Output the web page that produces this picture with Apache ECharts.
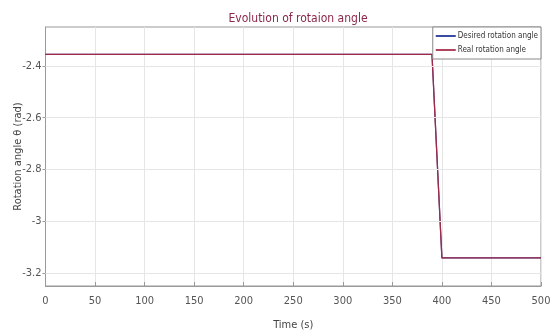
<!DOCTYPE html>
<html>
<head>
<meta charset="utf-8">
<script src="https://cdn.jsdelivr.net/npm/echarts@6/dist/echarts.min.js"></script>
<style>html,body{margin:0;padding:0;background:#fff}#c{width:553px;height:336px}</style>
</head>
<body>
<div id="c"></div>
<script>
// Data
const time = [0, 390, 400, 500];
const desiredAngle = [-2.356, -2.356, -3.1416, -3.1416];
const realAngle = [-2.356, -2.356, -3.1416, -3.1416];
const yTicks = [-3.2, -3.0, -2.8, -2.6, -2.4];
const xTicks = [0, 50, 100, 150, 200, 250, 300, 350, 400, 450, 500];
const seriesNames = ['Desired rotation angle', 'Real rotation angle'];

const FONT = "'Liberation Sans Narrow', 'DejaVu Sans Condensed', 'Liberation Sans', sans-serif";
const chart = echarts.init(document.getElementById('c'), null, {renderer: 'canvas'});
const pairs = (ys) => time.map((t, i) => [t, ys[i]]);

chart.setOption({
  animation: false,
  backgroundColor: '#fff',
  title: {
    text: 'Evolution of rotaion angle',
    left: 293, top: 8, textAlign: 'center',
    textStyle: {fontFamily: FONT, fontSize: 12, fontWeight: 'normal', color: '#8a2846'}
  },
  legend: {
    right: 12, top: 27, orient: 'vertical', z: 20,
    backgroundColor: '#fff', borderColor: '#888', borderWidth: 1, borderRadius: 0,
    padding: [5, 3, 5, 3], itemGap: 6, itemWidth: 20, itemHeight: 2,
    icon: 'rect',
    textStyle: {fontFamily: FONT, fontSize: 8, color: '#333', padding: [0, 0, 0, -3]},
    data: seriesNames
  },
  grid: {left: 45.5, right: 12, top: 27, bottom: 50, outerBoundsMode: 'none', containLabel: false,
    show: true, borderColor: '#999', borderWidth: 1, backgroundColor: 'transparent'},
  xAxis: {
    type: 'value', min: xTicks[0], max: xTicks[xTicks.length - 1], interval: 50,
    name: 'Time (s)', nameLocation: 'middle', nameGap: 34, nameMoveOverlap: false,
    nameTextStyle: {fontFamily: FONT, fontSize: 11, color: '#444'},
    axisLine: {show: true, lineStyle: {color: '#999'}},
    axisTick: {show: true, inside: true, length: 4, lineStyle: {color: '#999'}},
    axisLabel: {fontFamily: FONT, fontSize: 11, color: '#555', margin: 10},
    splitLine: {show: true, lineStyle: {color: '#e6e6e6', width: 1}}
  },
  yAxis: {
    type: 'value', min: -3.25, max: -2.25,
    name: 'Rotation angle θ (rad)', nameLocation: 'middle', nameGap: 22, nameRotate: 90, nameMoveOverlap: false,
    nameTextStyle: {fontFamily: FONT, fontSize: 11, color: '#444'},
    axisLine: {show: true, lineStyle: {color: '#999'}},
    axisTick: {show: true, inside: false, length: 3, customValues: yTicks, lineStyle: {color: '#999'}},
    axisLabel: {fontFamily: FONT, fontSize: 11, color: '#555', margin: 4, customValues: yTicks,
      formatter: (v) => (Math.abs(v + 3) < 1e-9 ? '-3' : String(Math.round(v * 10) / 10))},
    splitLine: {show: false}
  },
  series: [
    {
      name: seriesNames[0], type: 'line', data: pairs(desiredAngle), showSymbol: false,
      lineStyle: {color: '#3a4a9e', width: 1.2}, itemStyle: {color: '#3a4a9e'},
      markLine: {
        silent: true, symbol: 'none', label: {show: false},
        lineStyle: {color: '#e6e6e6', width: 1, type: 'solid'},
        data: yTicks.map(v => ({yAxis: v}))
      },
      z: 2
    },
    {
      name: seriesNames[1], type: 'line', data: pairs(realAngle), showSymbol: false,
      lineStyle: {color: '#9e2a4a', width: 1.3}, itemStyle: {color: '#b0445e'},
      z: 3
    }
  ]
});
</script>
</body>
</html>
